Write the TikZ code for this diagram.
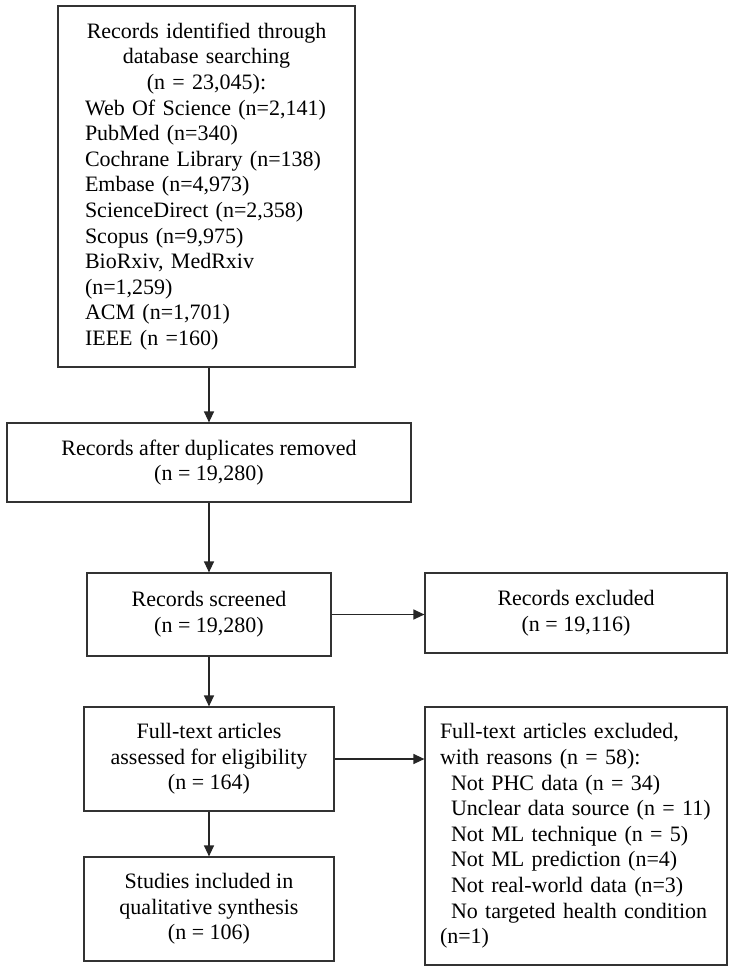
\documentclass[tikz,border=0pt]{standalone}
\usepackage{fontspec}
\setmainfont{Liberation Serif}
\usetikzlibrary{arrows.meta}
\begin{document}
\begin{tikzpicture}[x=1pt,y=-1pt,
  box/.style={draw=black!80, line width=1.2pt, rectangle, inner sep=0pt,
    font=\fontsize{22}{25.6}\selectfont},
  cbox/.style={box, align=center},
  arr/.style={draw=black!85, line width=1.3pt, -{Triangle[length=11pt,width=10pt]}}]
\useasboundingbox (0,0) rectangle (733,972);
\fill[white] (0,0) rectangle (733,972);

\node[box, text width=243pt, minimum width=297pt, minimum height=361pt] (b1) at (206.5,186.5)
{\parindent=0pt\parskip=0pt
{\centering Records identified through\\database searching\\(n = 23,045):\par}
\raggedright Web Of Science (n=2,141)\\PubMed (n=340)\\Cochrane Library (n=138)\\Embase (n=4,973)\\ScienceDirect (n=2,358)\\Scopus (n=9,975)\\BioRxiv, MedRxiv\\(n=1,259)\\ACM (n=1,701)\\IEEE (n =160)\par};

\node[cbox, minimum width=404pt, minimum height=79pt] (b2) at (209,462.5)
{Records after duplicates removed\\(n = 19,280)};

\node[cbox, minimum width=244pt, minimum height=83pt] (b3) at (209,614.5)
{Records screened\\(n = 19,280)};

\node[cbox, minimum width=302pt, minimum height=80pt] (b4) at (576,613)
{Records excluded\\(n = 19,116)};

\node[cbox, minimum width=250pt, minimum height=104pt] (b5) at (209,759)
{Full-text articles\\assessed for eligibility\\(n = 164)};

\node[box, align=left, text width=272pt, minimum width=302pt, minimum height=258pt] (b6) at (576,836)
{Full-text articles excluded,\\with reasons (n = 58):\\
\hspace*{11pt}Not PHC data (n = 34)\\
\hspace*{11pt}Unclear data source (n = 11)\\
\hspace*{11pt}Not ML technique (n = 5)\\
\hspace*{11pt}Not ML prediction (n=4)\\
\hspace*{11pt}Not real-world data (n=3)\\
\hspace*{11pt}No targeted health condition\\
(n=1)};

\node[cbox, minimum width=250pt, minimum height=104pt] (b7) at (209,909)
{Studies included in\\qualitative synthesis\\(n = 106)};

\draw[arr] (b1.south -| b2.north) -- (b2.north);
\draw[arr] (b2.south) -- (b3.north);
\draw[arr] (b3.south) -- (b5.north);
\draw[arr] (b5.south) -- (b7.north);
\draw[arr] (b3.east) -- (b3.east -| b4.west);
\draw[arr] (b5.east) -- (b5.east -| b6.west);
\end{tikzpicture}
\end{document}
